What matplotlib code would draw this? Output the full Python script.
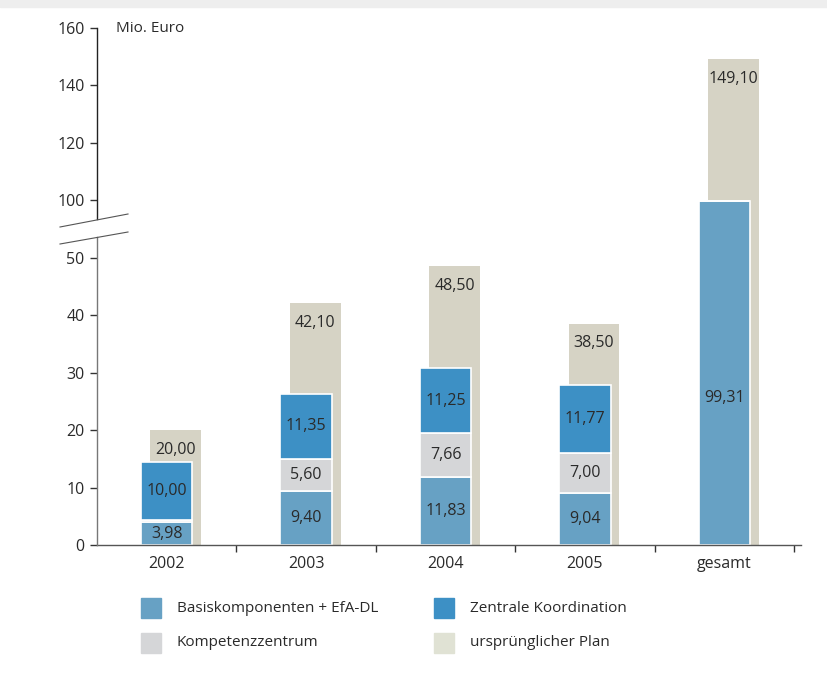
import numpy as np
import matplotlib
matplotlib.use("Agg")
import matplotlib.pyplot as plt
from matplotlib.patches import Rectangle
from matplotlib.lines import Line2D
import matplotlib.transforms as mtransforms

plt.rcParams['font.family'] = ['Open Sans', 'DejaVu Sans']

# ---- data ----
categories = ["2002", "2003", "2004", "2005", "gesamt"]
basis = [3.98, 9.40, 11.83, 9.04, 99.31]
kompetenz = [0.43, 5.60, 7.66, 7.00, 0.0]
zentrale = [10.00, 11.35, 11.25, 11.77, 0.0]
plan = [20.00, 42.10, 48.50, 38.50, 149.10]
basis_labels = ["3,98", "9,40", "11,83", "9,04", "99,31"]
kompetenz_labels = ["", "5,60", "7,66", "7,00", ""]
zentrale_labels = ["10,00", "11,35", "11,25", "11,77", ""]
plan_labels = ["20,00", "42,10", "48,50", "38,50", "149,10"]
yticks = [0, 10, 20, 30, 40, 50, 100, 120, 140, 160]
legend_names = ["Basiskomponenten + EfA-DL", "Zentrale Koordination",
                "Kompetenzzentrum", "ursprünglicher Plan"]

c_basis = "#67a1c4"
c_zentrale = "#3d90c5"
c_komp = "#d5d6d8"
c_plan = "#d6d3c5"
txt = "#2a2a2a"

W, H = 828, 678
fig = plt.figure(figsize=(W / 100, H / 100), dpi=100)

def fx(x):
    return x / W

def fy(y):
    return 1 - y / H

# broken axis scale
def fwd(v):
    v = np.asarray(v, dtype=float)
    return np.where(v <= 50, v, np.where(v >= 100, 60 + (v - 100) * 0.5, 50 + (v - 50) * 0.2))

def inv(y):
    y = np.asarray(y, dtype=float)
    return np.where(y <= 50, y, np.where(y >= 60, 100 + (y - 60) * 2, 50 + (y - 50) * 5))

ax_l, ax_r, ax_t, ax_b = 97, 801, 28, 545
ax = fig.add_axes([fx(ax_l), fy(ax_b), fx(ax_r - ax_l), (ax_b - ax_t) / H])
ax.set_yscale('function', functions=(fwd, inv))
ax.set_ylim(0, 160)
ax.set_xlim(-0.5, 4.55)

x = np.arange(len(categories))
fw = 0.37
pw = 0.365
poff = 0.065

ax.bar(x + poff, plan, width=pw, color=c_plan, zorder=1, linewidth=0)
b1 = np.array(basis)
b2 = b1 + np.array(kompetenz)
ax.bar(x, basis, width=fw, color=c_basis, edgecolor="white", linewidth=1.2, zorder=2)
ax.bar(x, kompetenz, width=fw, bottom=b1, color=c_komp, edgecolor="white", linewidth=1.2, zorder=2)
ax.bar(x, zentrale, width=fw, bottom=b2, color=c_zentrale, edgecolor="white", linewidth=1.2, zorder=2)

fs = 11.5
fs_leg = 11
for i in range(len(categories)):
    # plan labels near top
    ax.annotate(plan_labels[i], (x[i] + poff, plan[i]), xytext=(0, -14),
                textcoords="offset points", ha="center", va="center",
                fontsize=fs, color=txt, zorder=3)
    if i < 4:
        ax.text(x[i], basis[i] / 2, basis_labels[i], ha="center", va="center",
                fontsize=fs, color=txt, zorder=3)
    else:
        trans = mtransforms.blended_transform_factory(ax.transData, ax.transAxes)
        ax.text(x[i], 0.285, basis_labels[i], ha="center", va="center",
                fontsize=fs, color=txt, zorder=3, transform=trans)
    if kompetenz_labels[i]:
        ax.text(x[i], b1[i] + kompetenz[i] / 2, kompetenz_labels[i], ha="center",
                va="center", fontsize=fs, color=txt, zorder=3)
    if zentrale_labels[i]:
        ax.text(x[i], b2[i] + zentrale[i] / 2, zentrale_labels[i], ha="center",
                va="center", fontsize=fs, color=txt, zorder=3)

# axes styling
for s in ["top", "right", "left"]:
    ax.spines[s].set_visible(False)
ax.spines["bottom"].set_color("#555555")
ax.spines["bottom"].set_linewidth(1.0)

ax.set_yticks(yticks)
ax.set_yticklabels([str(t) for t in yticks])
ax.tick_params(axis="y", length=5, width=1, color="#333333", labelsize=fs,
               labelcolor=txt, pad=4)
ax.set_xticks(x)
ax.set_xticklabels(categories)
ax.set_xticks(np.arange(len(categories)) + 0.5, minor=True)
ax.tick_params(axis="x", which="major", length=0, labelsize=fs, labelcolor=txt, pad=8)
ax.tick_params(axis="x", which="minor", length=5, width=1, color="#333333")

# manual left spine with break
upper_frac = (ax_b - 219) / (ax_b - ax_t)
lower_frac = (ax_b - 237) / (ax_b - ax_t)
ax.plot([0, 0], [upper_frac, 1], transform=ax.transAxes, color="#222222", lw=1,
        clip_on=False, zorder=4)
ax.plot([0, 0], [0, lower_frac], transform=ax.transAxes, color="#777777", lw=1,
        clip_on=False, zorder=4)
for (x0, y0, x1, y1) in [(60, 227, 128, 214), (60, 244, 128, 232)]:
    fig.add_artist(Line2D([fx(x0), fx(x1)], [fy(y0), fy(y1)], color="#555555", lw=0.8))

ax.text(0.027, 1.0, "Mio. Euro", transform=ax.transAxes, ha="left", va="center",
        fontsize=fs_leg, color=txt)

# legend
items = [(141, 608, c_basis), (434, 608, c_zentrale), (141, 643, c_komp), (434, 643, "#e0e2d4")]
for (lx, ly, col), name in zip(items, legend_names):
    fig.add_artist(Rectangle((fx(lx), fy(ly + 10)), 20 / W, 20 / H, color=col,
                             transform=fig.transFigure))
    fig.text(fx(lx + 36), fy(ly), name, ha="left", va="center", fontsize=fs_leg, color=txt)

# top band
fig.add_artist(Rectangle((0, fy(7)), 1, 7 / H, color="#eeeeee", transform=fig.transFigure))

fig.savefig("out.png", dpi=100)
